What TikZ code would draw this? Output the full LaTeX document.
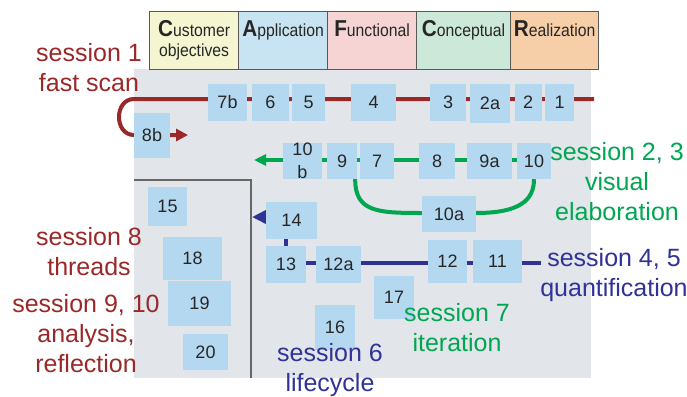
\documentclass[tikz,border=0pt]{standalone}
\usepackage{fontspec}
\setmainfont{Liberation Sans}
\newfontfamily\hdrfont[FakeStretch=0.9]{Liberation Sans}
\usetikzlibrary{arrows.meta}
\definecolor{sred}{RGB}{155,40,40}
\definecolor{sgreen}{RGB}{0,166,80}
\definecolor{sblue}{RGB}{48,50,150}
\definecolor{boxblue}{RGB}{180,216,240}
\definecolor{backgray}{RGB}{226,229,234}
\definecolor{cyel}{RGB}{245,245,210}
\definecolor{cblue}{RGB}{200,228,242}
\definecolor{cpink}{RGB}{246,212,212}
\definecolor{cgreen}{RGB}{204,232,216}
\definecolor{corange}{RGB}{246,207,168}
\pgfdeclarelayer{back}
\pgfdeclarelayer{lines}
\pgfsetlayers{back,lines,main}
\begin{document}
\begin{tikzpicture}[x=1pt,y=-1pt,
  bx/.style 2 args={fill=boxblue, inner sep=0pt, minimum width=#1pt, minimum height=#2pt,
    font=\fontsize{18}{22}\selectfont, text={black!85}, align=center},
  hdrbox/.style={draw={black!65}, line width=1.2pt, minimum height=58pt, inner sep=0pt, anchor=north west},
  hdrtext/.style={font=\hdrfont\fontsize{17.5}{20}\selectfont, anchor=north, inner sep=0pt, align=center, text={black!85}},
  session/.style={font=\fontsize{25}{30}\selectfont, align=center, inner sep=0pt},
  pathline/.style={line width=4pt},
  frame/.style={draw={black!60}, line width=1.5pt}]
\newcommand{\initial}[1]{{\fontsize{23}{20}\selectfont\bfseries #1}}
\useasboundingbox (0,0) rectangle (687,396);

% backdrop and thread frame
\begin{pgfonlayer}{back}
  \fill[backgray] (134,69) rectangle (591,378);
  \coordinate (fTop) at (134,180);
  \coordinate (fCorner) at (251,180);
  \coordinate (fBottom) at (251,378);
  \draw[frame] (fTop) -- (fCorner) -- (fBottom);
\end{pgfonlayer}

% CAFCR header
\node[hdrbox, fill=cyel, minimum width=89pt] (hC) at (149,11) {};
\node[hdrbox, fill=cblue, minimum width=89pt] (hA) at (238,11) {};
\node[hdrbox, fill=cpink, minimum width=89pt] (hF) at (327,11) {};
\node[hdrbox, fill=cgreen, minimum width=94pt] (hK) at (416,11) {};
\node[hdrbox, fill=corange, minimum width=88pt] (hR) at (510,11) {};
\node[hdrtext] (tC) at ([yshift=-9pt]hC.north) {\initial{C}ustomer\\objectives};
\node[hdrtext] (tA) at ([yshift=-9pt]hA.north) {\initial{A}pplication};
\node[hdrtext] (tF) at ([yshift=-9pt]hF.north) {\initial{F}unctional};
\node[hdrtext] (tK) at ([yshift=-9pt]hK.north) {\initial{C}onceptual};
\node[hdrtext] (tR) at ([yshift=-9pt]hR.north) {\initial{R}ealization};

% session 1 row
\node[bx={39}{37}] (n7b) at (227.5,102.5) {7b};
\node[bx={37}{37}] (n6) at (270.5,102.5) {6};
\node[bx={33}{37}] (n5) at (308.5,102.5) {5};
\node[bx={45}{37}] (n4) at (373.5,102.5) {4};
\node[bx={36}{37}] (n3) at (448,102.5) {3};
\node[bx={40}{39}] (n2a) at (490,103.5) {2a};
\node[bx={27}{37}] (n2) at (528,102.5) {2};
\node[bx={29}{37}] (n1) at (559.5,102.5) {1};
\node[bx={36}{45}] (n8b) at (152,135.5) {8b};

% session 2, 3 row
\node[bx={39}{36}, font=\fontsize{18}{23}\selectfont] (n10b) at (302.5,161) {10\\b};
\node[bx={30}{36}] (n9) at (342,161) {9};
\node[bx={34}{36}] (n7) at (377,161) {7};
\node[bx={36}{36}] (n8) at (437,161) {8};
\node[bx={45}{36}] (n9a) at (489.5,161) {9a};
\node[bx={34}{36}] (n10) at (534,161) {10};
\node[bx={54}{36}] (n10a) at (449,214) {10a};

% threads
\node[bx={39}{39}] (n15) at (167.5,206.5) {15};
\node[bx={59}{43}] (n18) at (192.5,258.5) {18};
\node[bx={63}{45}] (n19) at (199.5,303.5) {19};
\node[bx={45}{36}] (n20) at (205.5,352) {20};

% sessions 4 to 7
\node[bx={51}{37}] (n14) at (291.5,220.5) {14};
\node[bx={40}{37}] (n13) at (286,264.5) {13};
\node[bx={45}{37}] (n12a) at (338.5,264.5) {12a};
\node[bx={40}{43}] (n17) at (394,297.5) {17};
\node[bx={40}{45}] (n16) at (335,327.5) {16};
\node[bx={39}{43}] (n12) at (447.5,261.5) {12};
\node[bx={49}{43}] (n11) at (497.5,261.5) {11};

% session paths, behind the boxes
\begin{pgfonlayer}{lines}
  % session 1: fast scan from right to left, turning back to 8b
  \coordinate (rEnd) at (594,99);
  \coordinate (rTurn) at (134,99);
  \coordinate (rBack) at (134,135);
  \coordinate (rTip) at (188,135);
  \draw[sred, pathline, -{Triangle[length=12pt,width=12pt]}]
    (rEnd) -- (rTurn) .. controls (114,99) and (114,135) .. (rBack) -- (rTip);
  % sessions 2, 3
  \coordinate (gTip) at (254,160);
  \draw[sgreen, pathline, -{Triangle[length=12pt,width=11pt]}]
    (n10.center |- gTip) -- (gTip);
  \draw[sgreen, pathline]
    ([xshift=-2pt]n9.south east) .. controls (355,212) and (378,213) .. ([yshift=1pt]n10a.west);
  \draw[sgreen, pathline]
    ([yshift=1pt]n10a.east) .. controls (520,213) and (534,200) .. (n10.south);
  % sessions 4, 5
  \coordinate (bEnd) at (541,263);
  \draw[sblue, pathline] (n13.center |- bEnd) -- (bEnd);
  \draw[sblue, pathline] (n13.north) -- (n13.north |- n14.south);
  \coordinate (bTip) at (252,217);
  \draw[sblue, pathline, -{Triangle[length=14pt,width=13pt]}]
    (n14.west |- bTip) -- (bTip);
\end{pgfonlayer}

% session labels
\node[session, text=sred] (l1) at (89,68) {session 1\\fast scan};
\node[session, text=sgreen] (l23) at (617,182) {session 2, 3\\visual\\elaboration};
\node[session, text=sblue] (l45) at (614,275) {session 4, 5\\quantification};
\node[session, text=sblue] (l6) at (330,370) {session 6\\lifecycle};
\node[session, text=sgreen] (l7) at (457,328) {session 7\\iteration};
\node[session, text=sred] (l8) at (89,252) {session 8\\threads};
\node[session, text=sred] (l910) at (86,334) {session 9, 10\\analysis,\\reflection};
\end{tikzpicture}
\end{document}
